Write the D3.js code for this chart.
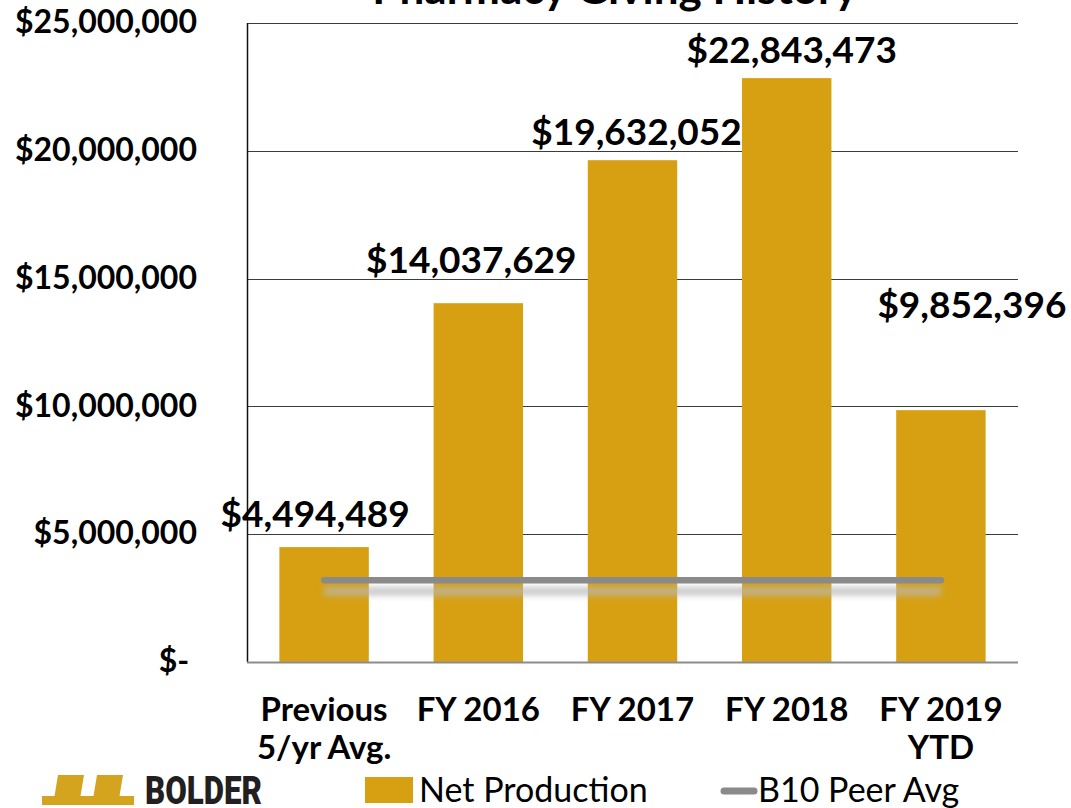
<!DOCTYPE html>
<html>
<head>
<meta charset="utf-8">
<script src="https://cdn.jsdelivr.net/npm/d3@7"></script>
<style>
  body { margin: 0; background: #fff; }
  svg { display: block; font-family: Lato, "Open Sans", sans-serif; }
</style>
</head>
<body>
<svg id="chart" width="1071" height="808"></svg>
<script>
const TITLE = "Pharmacy Giving History";
const CATEGORIES = [["Previous", "5/yr Avg."], ["FY 2016"], ["FY 2017"], ["FY 2018"], ["FY 2019", "YTD"]];
const NET_PRODUCTION = [4494489, 14037629, 19632052, 22843473, 9852396];
const PEER_AVG = [3200000, 3200000, 3200000, 3200000, 3200000];
const Y_TICKS = [0, 5000000, 10000000, 15000000, 20000000, 25000000];
const Y_TICK_LABELS = ["$-\u00a0", "$5,000,000", "$10,000,000", "$15,000,000", "$20,000,000", "$25,000,000"];
const LEGEND = ["Net Production", "B10 Peer Avg"];

// label tweaks, the labels were dragged around by hand in the original
const LABEL_NUDGE = [[-9, -20], [-7, -30], [4, -15], [5, -15], [31, -92]];

const GOLD = "#d6a012";
const PEER_GRAY = "#8a8a8a";

const svg = d3.select("#chart");
const plotLeft = 247, plotRight = 1018, plotTop = 23, plotBottom = 662;

const x = d3.scaleBand()
    .domain(d3.range(CATEGORIES.length))
    .range([plotLeft, plotRight])
    .paddingInner(0.42)
    .paddingOuter(0.21);

const y = d3.scaleLinear().domain([0, 25000000]).range([plotBottom, plotTop]);

const defs = svg.append("defs");
defs.append("filter").attr("id", "blur")
    .attr("filterUnits", "userSpaceOnUse")
    .attr("x", 0).attr("y", 0).attr("width", 1071).attr("height", 808)
    .append("feGaussianBlur").attr("stdDeviation", 3);

// title, mostly cropped off the top
svg.append("text")
    .attr("x", 615).attr("y", 4)
    .attr("text-anchor", "middle")
    .style("font-size", "44px").style("font-weight", "bold")
    .text(TITLE);

// gridlines
svg.append("g").selectAll("line")
    .data(Y_TICKS.slice(1))
    .join("line")
    .attr("x1", plotLeft).attr("x2", plotRight)
    .attr("y1", (d) => Math.round(y(d)) + 0.5).attr("y2", (d) => Math.round(y(d)) + 0.5)
    .attr("stroke", "#3c3c3c").attr("stroke-width", 1.2);

// y tick labels
svg.append("g").selectAll("text")
    .data(Y_TICKS)
    .join("text")
    .attr("x", 197)
    .attr("y", (d) => y(d) + 2)
    .attr("text-anchor", "end")
    .attr("dominant-baseline", "middle")
    .style("font-size", "32px").style("font-weight", "bold")
    .text((d, i) => Y_TICK_LABELS[i]);

// bars
svg.append("g").selectAll("rect")
    .data(NET_PRODUCTION)
    .join("rect")
    .attr("x", (d, i) => x(i))
    .attr("width", x.bandwidth())
    .attr("y", (d) => y(d))
    .attr("height", (d) => plotBottom - y(d))
    .attr("fill", GOLD);

// axes lines
svg.append("line")
    .attr("x1", plotLeft + 0.5).attr("x2", plotLeft + 0.5)
    .attr("y1", plotTop).attr("y2", plotBottom)
    .attr("stroke", "#111").attr("stroke-width", 1.5);
svg.append("line")
    .attr("x1", plotLeft).attr("x2", plotRight)
    .attr("y1", plotBottom + 0.5).attr("y2", plotBottom + 0.5)
    .attr("stroke", "#8c8c8c").attr("stroke-width", 2.2);

// peer average line + soft shadow
const peerLine = d3.line()
    .x((d, i) => x(i) + x.bandwidth() / 2)
    .y((d) => y(d));

svg.append("path")
    .datum(PEER_AVG)
    .attr("d", peerLine)
    .attr("transform", "translate(0,11)")
    .attr("fill", "none")
    .attr("stroke", "#b8b8b8").attr("stroke-opacity", 0.8)
    .attr("stroke-width", 8)
    .attr("filter", "url(#blur)");

svg.append("path")
    .datum(PEER_AVG)
    .attr("d", peerLine)
    .attr("fill", "none")
    .attr("stroke", PEER_GRAY)
    .attr("stroke-width", 6.5)
    .attr("stroke-linecap", "round");

// data labels
const fmt = d3.format(",");
svg.append("g").selectAll("text")
    .data(NET_PRODUCTION)
    .join("text")
    .attr("x", (d, i) => x(i) + x.bandwidth() / 2 + LABEL_NUDGE[i][0])
    .attr("y", (d, i) => y(d) + LABEL_NUDGE[i][1])
    .attr("text-anchor", "middle")
    .style("font-size", "37px").style("font-weight", "bold")
    .text((d) => "$" + fmt(d));

// category labels
const cat = svg.append("g").selectAll("text")
    .data(CATEGORIES)
    .join("text")
    .attr("text-anchor", "middle")
    .style("font-size", "33px").style("font-weight", "bold");
cat.selectAll("tspan")
    .data((d, i) => d.map((t) => ({ t, i })))
    .join("tspan")
    .attr("x", (d) => x(d.i) + x.bandwidth() / 2)
    .attr("y", (d, j) => 721 + j * 38)
    .text((d) => d.t);

// legend
const lg = svg.append("g");
lg.append("rect")
    .attr("x", 365).attr("y", 777).attr("width", 48).attr("height", 26)
    .attr("fill", GOLD);
lg.append("text")
    .attr("x", 419).attr("y", 802)
    .style("font-size", "34px")
    .text(LEGEND[0]);
lg.append("line")
    .attr("x1", 724).attr("x2", 754).attr("y1", 791).attr("y2", 791)
    .attr("stroke", PEER_GRAY).attr("stroke-width", 7).attr("stroke-linecap", "round");
lg.append("text")
    .attr("x", 758).attr("y", 802)
    .style("font-size", "34px")
    .text(LEGEND[1]);

// logo: two slanted uprights on a base strip
const logo = svg.append("g").attr("fill", "#d5a41f");
logo.append("rect").attr("x", 42).attr("y", 796).attr("width", 92).attr("height", 9);
[58, 97].forEach((x0) => {
    logo.append("path")
        .attr("d", `M${x0},775 L${x0 + 26},775 L${x0 + 21},805 L${x0 - 5},805 Z`);
});
svg.append("text")
    .attr("x", 145).attr("y", 804)
    .attr("textLength", 117).attr("lengthAdjust", "spacingAndGlyphs")
    .style("font-family", "Roboto, sans-serif")
    .style("font-size", "38px").style("font-weight", "900")
    .attr("fill", "#231f20")
    .text("BOLDER");
</script>
</body>
</html>
